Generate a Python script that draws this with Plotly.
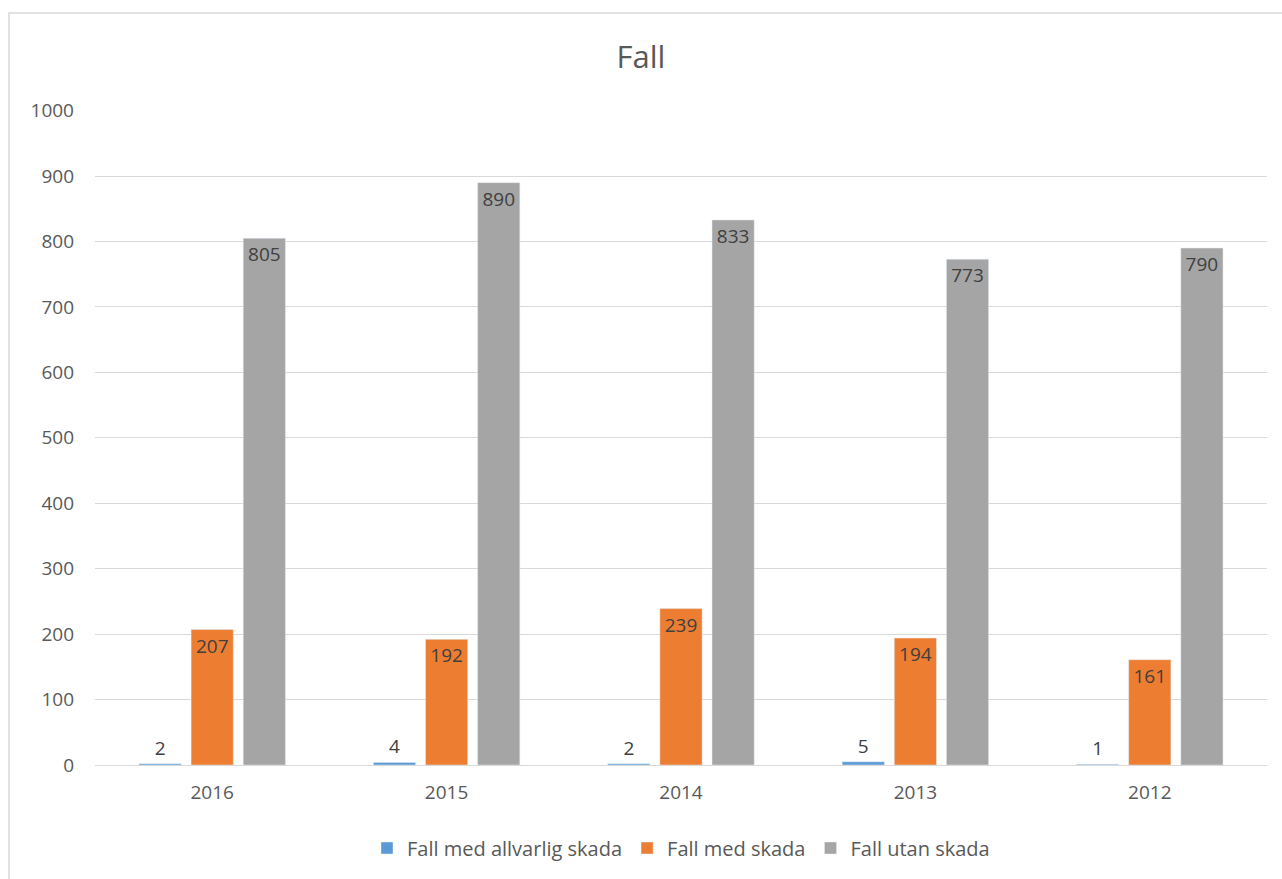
import plotly.graph_objects as go

years = ["2016", "2015", "2014", "2013", "2012"]
allvarlig = [2, 4, 2, 5, 1]
med_skada = [207, 192, 239, 194, 161]
utan_skada = [805, 890, 833, 773, 790]

series = [
    ("Fall med allvarlig skada", allvarlig, "#5b9bd5"),
    ("Fall med skada", med_skada, "#ed7d31"),
    ("Fall utan skada", utan_skada, "#a5a5a5"),
]

FONT = "Open Sans, Noto Sans, sans-serif"
LBL = dict(size=19, color="#404040", family=FONT)
fig = go.Figure()
for name, vals, col in series:
    fig.add_trace(go.Bar(
        name=name, x=years, y=vals, marker_color=col,
        text=[str(v) for v in vals],
        textposition="auto", insidetextanchor="end",
        textfont=LBL, outsidetextfont=LBL, insidetextfont=LBL,
        cliponaxis=False,
    ))

W, H = 1282, 879
l, r, t, b = 95, 15, 110, 114
pw, ph = W - l - r, H - t - b
fig.update_layout(
    width=W, height=H,
    margin=dict(l=l, r=r, t=t, b=b),
    paper_bgcolor="white", plot_bgcolor="white",
    barmode="group", bargap=0.333, bargroupgap=0.19,
    title=dict(text="Fall", x=0.5, xanchor="center", y=1 - 57 / H, yanchor="middle",
               font=dict(size=31, color="#595959", family=FONT)),
    font=dict(family=FONT, color="#595959"),
    xaxis=dict(showgrid=False, showline=True, linecolor="#d9d9d9", linewidth=1,
               tickfont=dict(size=19, color="#595959"), ticks="",
               ticklabelstandoff=10),
    yaxis=dict(range=[0, 1001], tickvals=list(range(0, 1001, 100)),
               showgrid=True, gridcolor="#d9d9d9",
               gridwidth=1, zeroline=False, tickfont=dict(size=19, color="#595959"),
               ticklabelstandoff=20),
    legend=dict(orientation="h", x=0.5, xanchor="center", y=(765 - 848) / ph,
                yanchor="middle", font=dict(size=20, color="#595959"),
                itemwidth=30, traceorder="normal"),
    showlegend=True,
    shapes=[dict(type="rect", xref="paper", yref="paper",
                 x0=(9 - l) / pw, x1=(W + 5 - l) / pw,
                 y0=(H - b - (H + 5)) / ph, y1=(H - b - 13) / ph,
                 line=dict(color="#d9d9d9", width=1.5), fillcolor="rgba(0,0,0,0)",
                 layer="below")],
)
fig.write_html("out.html")
